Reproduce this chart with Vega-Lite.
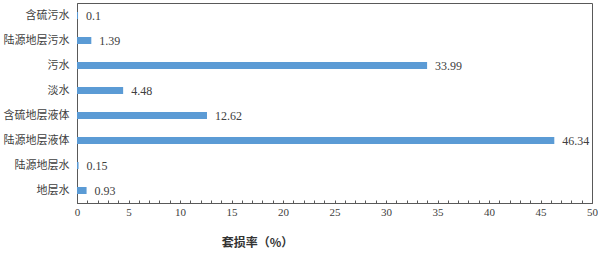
{
  "$schema": "https://vega.github.io/schema/vega-lite/v6.json",
  "width": 515,
  "height": 200,
  "autosize": {"type": "none"},
  "padding": {"left": 77, "top": 3, "right": 6, "bottom": 55},
  "background": "white",
  "config": {
    "view": {"stroke": "#595959", "strokeWidth": 1},
    "font": "Liberation Serif, Noto Sans CJK SC",
    "axis": {"domainColor": "#595959", "tickColor": "#595959", "labelColor": "#404040", "grid": false, "labelFont": "Liberation Serif, Noto Sans CJK SC"}
  },
  "data": {
    "values": [
      {"type": "含硫污水", "rate": 0.1, "label": "0.1"},
      {"type": "陆源地层污水", "rate": 1.39, "label": "1.39"},
      {"type": "污水", "rate": 33.99, "label": "33.99"},
      {"type": "淡水", "rate": 4.48, "label": "4.48"},
      {"type": "含硫地层液体", "rate": 12.62, "label": "12.62"},
      {"type": "陆源地层液体", "rate": 46.34, "label": "46.34"},
      {"type": "陆源地层水", "rate": 0.15, "label": "0.15"},
      {"type": "地层水", "rate": 0.93, "label": "0.93"}
    ]
  },
  "encoding": {
    "y": {
      "field": "type", "type": "nominal", "sort": null,
      "axis": {"title": null, "ticks": false, "labelPadding": 8, "labelFontSize": 11, "labelFont": "Noto Sans CJK SC", "labelColor": "#404040", "domain": true}
    },
    "x": {
      "field": "rate", "type": "quantitative",
      "scale": {"domain": [0, 50], "nice": false},
      "axis": {
        "values": [0,1,2,3,4,5,6,7,8,9,10,11,12,13,14,15,16,17,18,19,20,21,22,23,24,25,26,27,28,29,30,31,32,33,34,35,36,37,38,39,40,41,42,43,44,45,46,47,48,49,50],
        "labelExpr": "datum.value % 5 === 0 ? datum.label : ''",
        "tickSize": -3,
        "labelPadding": 6,
        "labelFontSize": 11,
        "labelFlush": false,
        "title": "套损率（%）",
        "titleFontSize": 12,
        "titleFontWeight": "bold",
        "titleColor": "#333333",
        "titleFont": "Noto Sans CJK SC",
        "titleX": 180,
        "titleAlign": "center",
        "titlePadding": 20
      }
    }
  },
  "layer": [
    {"mark": {"type": "bar", "color": "#5B9BD5", "size": 7}},
    {"mark": {"type": "text", "align": "left", "dx": 8, "fontSize": 12, "font": "Liberation Serif", "color": "#404040"}, "encoding": {"text": {"field": "label"}}}
  ]
}
